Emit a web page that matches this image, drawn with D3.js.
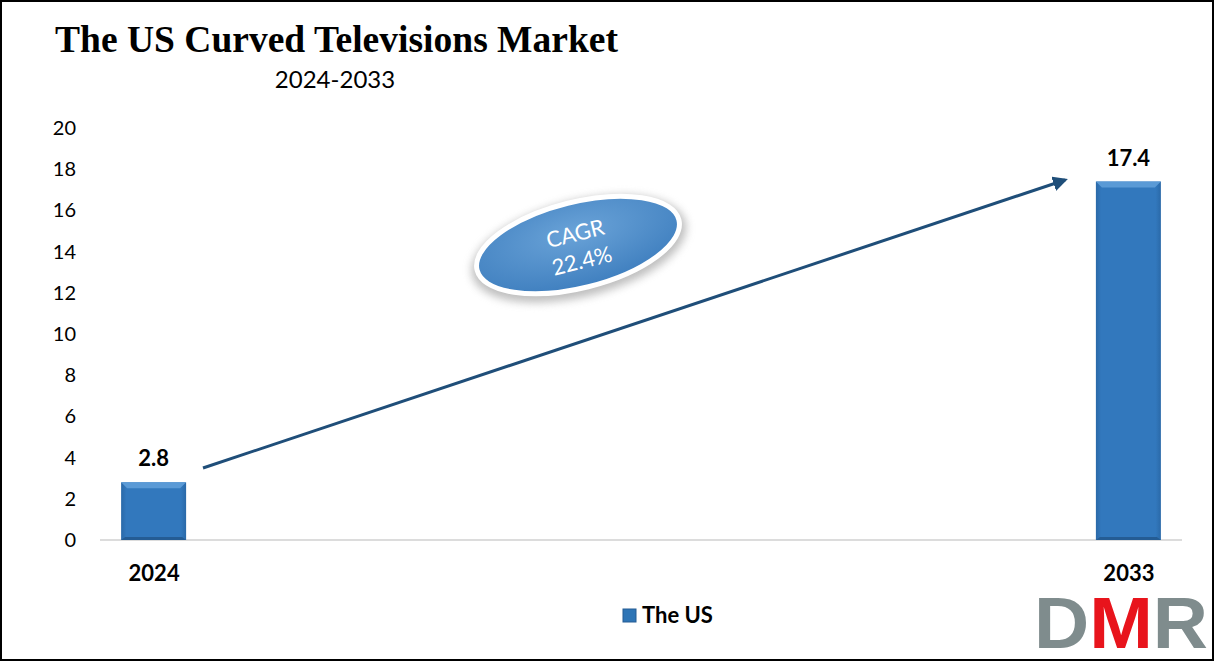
<!DOCTYPE html>
<html><head><meta charset="utf-8">
<script src="https://cdn.jsdelivr.net/npm/d3@7"></script>
<style>html,body{margin:0;padding:0;background:#fff;}svg{display:block;}</style>
</head><body>
<svg id="chart" width="1216" height="663"></svg>
<script>
const categories = ["2024", "2033"];
const values = [2.8, 17.4];
const yTicks = [0, 2, 4, 6, 8, 10, 12, 14, 16, 18, 20];
const seriesName = "The US";
const cagrText = ["CAGR", "22.4%"];
const titleText = "The US Curved Televisions Market";
const subtitleText = "2024-2033";
const logoLetters = ["D", "M", "R"];

const svg = d3.select("#chart");
const W = 1216, H = 663;
const defs = svg.append("defs");

// frame
svg.append("rect").attr("x", 1).attr("y", 1).attr("width", W - 4).attr("height", H - 4)
  .attr("fill", "#fff").attr("stroke", "#000").attr("stroke-width", 2);

const x = d3.scalePoint().domain(categories).range([100, 1182]).padding(0.055);
const y = d3.scaleLinear().domain([0, 20]).range([540, 128]);
const barW = 65;

// gradients
const bg = defs.append("linearGradient").attr("id", "barGrad").attr("x1", 0).attr("x2", 1).attr("y1", 0).attr("y2", 0);
bg.append("stop").attr("offset", "0%").attr("stop-color", "#2a69a8");
bg.append("stop").attr("offset", "8%").attr("stop-color", "#3278bd");
bg.append("stop").attr("offset", "92%").attr("stop-color", "#3278bd");
bg.append("stop").attr("offset", "100%").attr("stop-color", "#2a69a8");

const eg = defs.append("radialGradient").attr("id", "ellGrad").attr("cx", "50%").attr("cy", "35%").attr("r", "65%");
eg.append("stop").attr("offset", "0%").attr("stop-color", "#6aa3d8");
eg.append("stop").attr("offset", "100%").attr("stop-color", "#3f7fbf");

const blur = defs.append("filter").attr("id", "shadow").attr("x", "-20%").attr("y", "-30%").attr("width", "140%").attr("height", "160%");
blur.append("feGaussianBlur").attr("stdDeviation", 4);

// y axis labels
const yAxis = d3.axisLeft(y).tickValues(yTicks).tickSize(0).tickPadding(0);
const ya = svg.append("g").attr("transform", "translate(76,0)").call(yAxis);
ya.select(".domain").remove();
ya.selectAll("text").attr("font-family", "Lato, 'Open Sans', sans-serif").attr("font-size", 20).attr("fill", "#000");

// baseline
svg.append("line").attr("x1", 100).attr("x2", 1182).attr("y1", y(0)).attr("y2", y(0))
  .attr("stroke", "#d0d0d0").attr("stroke-width", 1.5);

// bars
const bars = svg.append("g");
categories.forEach((c, i) => {
  const bx = x(c) - barW / 2, by = y(values[i]), bh = y(0) - y(values[i]);
  bars.append("rect").attr("x", bx).attr("y", by).attr("width", barW).attr("height", bh).attr("fill", "url(#barGrad)");
  bars.append("path").attr("d", `M${bx},${by} L${bx + barW},${by} L${bx + barW - 6},${by + 6} L${bx + 6},${by + 6} Z`).attr("fill", "#5a9ad6");
  bars.append("path").attr("d", `M${bx},${by + bh} L${bx + barW},${by + bh} L${bx + barW - 4},${by + bh - 3} L${bx + 4},${by + bh - 3} Z`).attr("fill", "#245c94");
  svg.append("text").attr("x", x(c)).attr("y", by - 16).attr("text-anchor", "middle")
    .attr("font-family", "Lato, 'Open Sans', sans-serif").attr("font-weight", "bold").attr("font-size", 22)
    .attr("fill", "#000").text(values[i]);
});

// x axis labels
const xAxis = d3.axisBottom(x).tickSize(0).tickPadding(0);
const xa = svg.append("g").attr("transform", "translate(0,565)").call(xAxis);
xa.select(".domain").remove();
xa.selectAll("text").attr("font-family", "Lato, 'Open Sans', sans-serif").attr("font-weight", "bold").attr("font-size", 22).attr("fill", "#000");

// titles
svg.append("text").attr("x", 55).attr("y", 52).attr("font-family", "'Liberation Serif', 'Times New Roman', serif")
  .attr("font-weight", "bold").attr("font-size", 38).attr("fill", "#000")
  .attr("textLength", 563).attr("lengthAdjust", "spacingAndGlyphs").text(titleText);
svg.append("text").attr("x", 335).attr("y", 88).attr("text-anchor", "middle")
  .attr("font-family", "Lato, 'Open Sans', sans-serif").attr("font-size", 24).attr("fill", "#000").text(subtitleText);

// arrow
defs.append("marker").attr("id", "arrowHead").attr("viewBox", "0 0 10 10").attr("refX", 8).attr("refY", 5)
  .attr("markerWidth", 5).attr("markerHeight", 5).attr("orient", "auto")
  .append("path").attr("d", "M0,0 L10,5 L0,10 Z").attr("fill", "#1f4e79");
svg.append("line").attr("x1", 203).attr("y1", 468).attr("x2", 1065).attr("y2", 180)
  .attr("stroke", "#1f4e79").attr("stroke-width", 3).attr("marker-end", "url(#arrowHead)");

// CAGR ellipse
const eGrp = svg.append("g").attr("transform", "translate(578,245) rotate(-14)");
eGrp.append("ellipse").attr("rx", 110).attr("ry", 48).attr("cy", 4).attr("fill", "#8a8a8a").attr("opacity", 0.55).attr("filter", "url(#shadow)");
eGrp.append("ellipse").attr("rx", 104).attr("ry", 43).attr("fill", "url(#ellGrad)").attr("stroke", "#fff").attr("stroke-width", 5);
eGrp.selectAll("text.cagr").data(cagrText).enter().append("text").attr("class", "cagr")
  .attr("x", 0).attr("y", (d, i) => i === 0 ? -4 : 24).attr("text-anchor", "middle")
  .attr("font-family", "Lato, 'Open Sans', sans-serif").attr("font-size", 22).attr("fill", "#fff").text(d => d);

// legend
svg.append("rect").attr("x", 623).attr("y", 609).attr("width", 13).attr("height", 13).attr("fill", "#2e75b6").attr("stroke", "#245c94");
svg.append("text").attr("x", 642).attr("y", 623).attr("font-family", "Lato, 'Open Sans', sans-serif")
  .attr("font-weight", "bold").attr("font-size", 22).attr("fill", "#000").text(seriesName);

// DMR logo (one text, coloured letters)
const logoColors = ["#7f8c8d", "#e8141c", "#7f8c8d"];
const logo = svg.append("text").attr("x", 1034).attr("y", 648)
  .attr("font-family", "'Liberation Sans', Arial, sans-serif").attr("font-weight", "bold").attr("font-size", 72)
  .attr("textLength", 174).attr("lengthAdjust", "spacingAndGlyphs");
logo.selectAll("tspan").data(logoLetters).enter().append("tspan")
  .attr("fill", (d, i) => logoColors[i]).text(d => d);
</script>
</body></html>
